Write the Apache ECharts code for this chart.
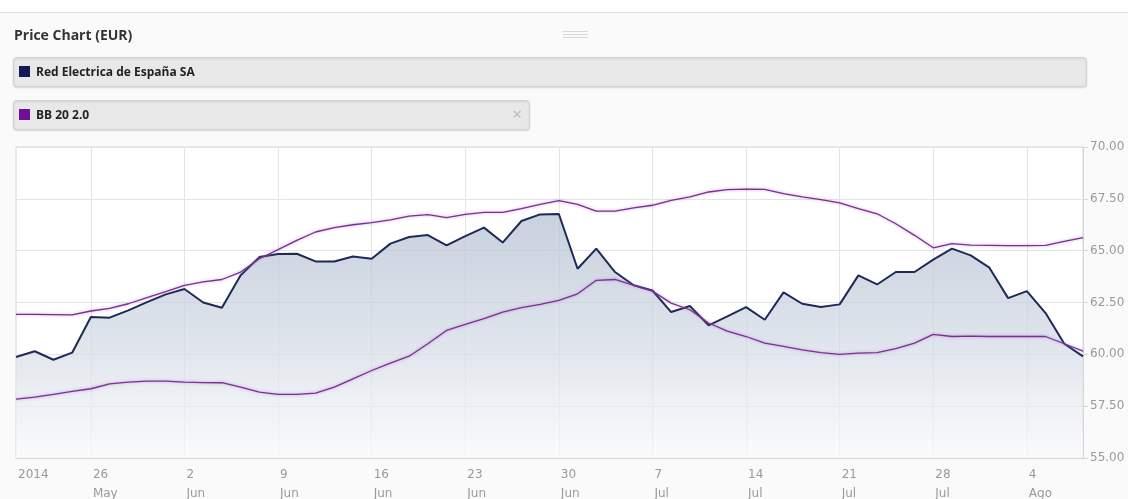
<!DOCTYPE html>
<html>
<head>
<meta charset="utf-8">
<script src="https://cdn.jsdelivr.net/npm/echarts@6/dist/echarts.min.js"></script>
<style>
  html, body { margin: 0; padding: 0; background: #fafafa; }
  #chart { width: 1128px; height: 499px; }
</style>
</head>
<body>
<div id="chart"></div>
<script>
// ---- Data ----
const dates = [
  '2014-05-20','2014-05-21','2014-05-22','2014-05-23',
  '2014-05-26','2014-05-27','2014-05-28','2014-05-29','2014-05-30',
  '2014-06-02','2014-06-03','2014-06-04','2014-06-05','2014-06-06',
  '2014-06-09','2014-06-10','2014-06-11','2014-06-12','2014-06-13',
  '2014-06-16','2014-06-17','2014-06-18','2014-06-19','2014-06-20',
  '2014-06-23','2014-06-24','2014-06-25','2014-06-26','2014-06-27',
  '2014-06-30','2014-07-01','2014-07-02','2014-07-03','2014-07-04',
  '2014-07-07','2014-07-08','2014-07-09','2014-07-10','2014-07-11',
  '2014-07-14','2014-07-15','2014-07-16','2014-07-17','2014-07-18',
  '2014-07-21','2014-07-22','2014-07-23','2014-07-24','2014-07-25',
  '2014-07-28','2014-07-29','2014-07-30','2014-07-31','2014-08-01',
  '2014-08-04','2014-08-05','2014-08-06','2014-08-07'
];
const price = [
  59.87,60.15,59.74,60.08,
  61.80,61.77,62.12,62.52,62.89,
  63.15,62.50,62.25,63.81,64.69,
  64.84,64.85,64.48,64.48,64.72,
  64.61,65.34,65.66,65.75,65.26,
  65.70,66.11,65.39,66.43,66.75,
  66.77,64.13,65.10,63.97,63.33,
  63.08,62.04,62.33,61.40,61.83,
  62.28,61.67,62.99,62.44,62.28,
  62.41,63.81,63.37,63.97,63.97,
  64.57,65.10,64.77,64.18,62.71,
  63.05,61.99,60.51,59.90
];
const bbUpper = [
  61.93,61.93,61.92,61.90,
  62.09,62.22,62.44,62.73,63.02,
  63.33,63.49,63.61,63.97,64.61,
  65.05,65.50,65.90,66.11,66.25,
  66.35,66.49,66.67,66.74,66.59,
  66.75,66.85,66.85,67.03,67.23,
  67.41,67.23,66.91,66.91,67.06,
  67.19,67.43,67.59,67.83,67.94,
  67.97,67.96,67.75,67.59,67.46,
  67.30,67.03,66.78,66.30,65.74,
  65.14,65.34,65.27,65.26,65.24,
  65.24,65.26,65.45,65.63
];
const bbLower = [
  57.84,57.94,58.07,58.21,
  58.34,58.58,58.66,58.71,58.71,
  58.66,58.64,58.63,58.42,58.18,
  58.07,58.07,58.13,58.42,58.82,
  59.22,59.58,59.91,60.51,61.15,
  61.44,61.72,62.04,62.25,62.41,
  62.60,62.92,63.57,63.61,63.33,
  63.05,62.47,62.15,61.51,61.12,
  60.86,60.54,60.38,60.22,60.08,
  60.00,60.06,60.08,60.27,60.54,
  60.96,60.86,60.88,60.86,60.86,
  60.86,60.86,60.51,60.15
];
const tickDates = ['2014-05-20','2014-05-26','2014-06-02','2014-06-09','2014-06-16','2014-06-23','2014-06-30','2014-07-07','2014-07-14','2014-07-21','2014-07-28','2014-08-04'];
const tickLabels = ['2014','26\nMay','2\nJun','9\nJun','16\nJun','23\nJun','30\nJun','7\nJul','14\nJul','21\nJul','28\nJul','4\nAgo'];
const gridTickDates = tickDates.slice(1);
const yTicks = [55, 57.5, 60, 62.5, 65, 67.5, 70];

const seriesNames = ['Red Electrica de España SA', 'BB 20 2.0'];
const titleText = 'Price Chart (EUR)';

// ---- Chart ----
const labelMap = {};
tickDates.forEach((d, i) => { labelMap[d] = tickLabels[i]; });
const gridSet = new Set(gridTickDates);

const chart = echarts.init(document.getElementById('chart'), null, { renderer: 'canvas' });
const uiFont = '"Open Sans", "DejaVu Sans", sans-serif';
const axisFont = '"DejaVu Sans", Verdana, sans-serif';
const bandStyle = { color: '#7a3092', width: 1.3, shadowColor: 'rgba(175,110,205,0.7)', shadowBlur: 3 };

const option = {
  animation: false,
  backgroundColor: 'transparent',
  grid: {
    left: 16, right: 45, top: 147, bottom: 41,
    containLabel: false, outerBoundsMode: 'none',
    show: true, backgroundColor: '#ffffff', borderColor: '#d6d6d6', borderWidth: 1
  },
  xAxis: {
    type: 'category',
    data: dates,
    boundaryGap: false,
    axisLine: { show: true, lineStyle: { color: '#d6d6d6' } },
    axisTick: { show: false },
    axisLabel: {
      interval: (idx, val) => labelMap[val] !== undefined,
      formatter: (val) => labelMap[val] || '',
      align: 'left',
      verticalAlign: 'top',
      padding: [0, 0, 0, 2],
      margin: 7,
      color: '#9a9a9a',
      fontFamily: axisFont,
      fontSize: 12,
      lineHeight: 19,
      hideOverlap: false
    },
    splitLine: {
      show: true,
      interval: (idx, val) => gridSet.has(val),
      lineStyle: { color: '#e4e4e4', width: 1 }
    }
  },
  yAxis: {
    type: 'value',
    position: 'right',
    min: yTicks[0], max: yTicks[yTicks.length - 1], interval: 2.5,
    axisLine: { show: true, lineStyle: { color: '#d6d6d6' } },
    axisTick: { show: true, length: 5, lineStyle: { color: '#d6d6d6' } },
    axisLabel: {
      formatter: (v) => v.toFixed(2),
      color: '#9a9a9a', fontFamily: axisFont, fontSize: 12, margin: 7
    },
    splitLine: { show: true, lineStyle: { color: '#e4e4e4', width: 1 } }
  },
  series: [
    {
      name: seriesNames[0],
      type: 'line',
      data: price,
      symbol: 'none',
      z: 2,
      lineStyle: { color: '#1d2a57', width: 2 },
      areaStyle: {
        origin: 'start',
        color: new echarts.graphic.LinearGradient(0, 0, 0, 1, [
          { offset: 0, color: '#b0bdd0' },
          { offset: 0.5, color: '#d0d8e3' },
          { offset: 1, color: '#f8f9fb' }
        ])
      }
    },
    { name: seriesNames[1] + ' upper', type: 'line', data: bbUpper, symbol: 'none', z: 3, lineStyle: bandStyle },
    { name: seriesNames[1] + ' lower', type: 'line', data: bbLower, symbol: 'none', z: 3, lineStyle: bandStyle }
  ],
  graphic: [
    { type: 'rect', shape: { x: 0, y: 0, width: 1128, height: 12 }, style: { fill: '#ffffff' }, silent: true },
    { type: 'line', shape: { x1: 0, y1: 12.5, x2: 1128, y2: 12.5 }, style: { stroke: '#e2e2e2', lineWidth: 1 }, silent: true },
    { type: 'text', x: 14, y: 36, style: { text: titleText, font: 'bold 14px ' + uiFont, fill: '#333333', verticalAlign: 'middle' } },
    { type: 'line', shape: { x1: 563, y1: 31.5, x2: 588, y2: 31.5 }, style: { stroke: '#d8d8d8', lineWidth: 1 } },
    { type: 'line', shape: { x1: 563, y1: 34.5, x2: 588, y2: 34.5 }, style: { stroke: '#d8d8d8', lineWidth: 1 } },
    { type: 'line', shape: { x1: 563, y1: 37.5, x2: 588, y2: 37.5 }, style: { stroke: '#d8d8d8', lineWidth: 1 } },
    { type: 'rect', shape: { x: 13.5, y: 57.5, width: 1073, height: 29, r: 3 },
      style: { fill: '#e8e8e8', stroke: '#d2d2d2', lineWidth: 1, shadowColor: 'rgba(0,0,0,0.12)', shadowBlur: 2, shadowOffsetY: 1 } },
    { type: 'rect', shape: { x: 19, y: 66, width: 11, height: 11 }, style: { fill: '#0f1c57' } },
    { type: 'text', x: 36, y: 72.5, style: { text: seriesNames[0], font: 'bold 12px ' + uiFont, fill: '#222222', verticalAlign: 'middle' } },
    { type: 'rect', shape: { x: 13.5, y: 100.5, width: 516, height: 29, r: 3 },
      style: { fill: '#e8e8e8', stroke: '#d2d2d2', lineWidth: 1, shadowColor: 'rgba(0,0,0,0.12)', shadowBlur: 2, shadowOffsetY: 1 } },
    { type: 'rect', shape: { x: 19, y: 109, width: 11, height: 11 }, style: { fill: '#6e0e9a' } },
    { type: 'text', x: 36, y: 115.5, style: { text: seriesNames[1], font: 'bold 12px ' + uiFont, fill: '#222222', verticalAlign: 'middle' } },
    { type: 'text', x: 517, y: 115, style: { text: '×', font: '17px ' + uiFont, fill: '#b8b8b8', align: 'center', verticalAlign: 'middle' } }
  ]
};
chart.setOption(option);
</script>
</body>
</html>
